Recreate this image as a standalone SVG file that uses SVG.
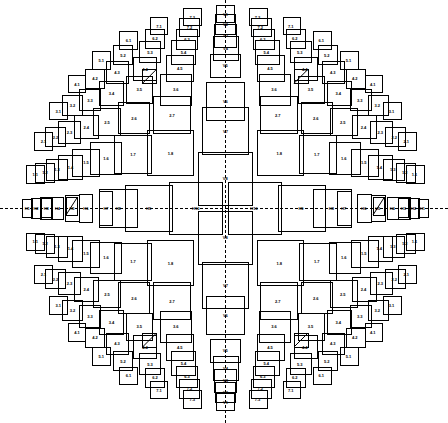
<svg xmlns="http://www.w3.org/2000/svg" width="448" height="423" viewBox="0 0 448 423">
<style>
.bg{fill:#fff;stroke:none}
rect.n{fill:none;stroke:#000;stroke-width:1;shape-rendering:crispEdges}
line{stroke:#000;stroke-width:1}
.ax{stroke-dasharray:3 2;shape-rendering:crispEdges}
text{font-family:"Liberation Sans",Arial,sans-serif;font-size:4px;font-weight:bold;text-anchor:middle;dominant-baseline:central;fill:#000}
.fx text{transform-box:fill-box;transform-origin:center;transform:scale(-1,1)}
.fy text{transform-box:fill-box;transform-origin:center;transform:scale(1,-1)}
.fxy text{transform-box:fill-box;transform-origin:center;transform:scale(-1,-1)}
</style>
<rect class="bg" x="0" y="0" width="448" height="423"/>

<!-- bottom-left quadrant -->
<g id="q-bl">
<g id="bl-1-1"><rect class="n" x="26.5" y="233" width="17.5" height="17.5"/><text x="35.25" y="241.75">1.1</text></g>
<g id="bl-1-2"><rect class="n" x="35.5" y="234" width="19" height="19"/><text x="45" y="243.5">1.2</text></g>
<g id="bl-1-3"><rect class="n" x="46.5" y="236" width="21" height="21"/><text x="57" y="246.5">1.3</text></g>
<g id="bl-1-4"><rect class="n" x="58.5" y="236.5" width="24" height="24.5"/><text x="70.5" y="248.75">1.4</text></g>
<g id="bl-1-5"><rect class="n" x="72.5" y="240" width="27" height="27"/><text x="86" y="253.5">1.5</text></g>
<g id="bl-1-6"><rect class="n" x="90.5" y="242" width="31" height="31.5"/><text x="106" y="257.75">1.6</text></g>
<g id="bl-1-7"><rect class="n" x="114.5" y="243" width="37" height="37.5"/><text x="133" y="261.75">1.7</text></g>
<g id="bl-1-8"><rect class="n" x="147.5" y="240.5" width="46" height="45"/><text x="170.5" y="263">1.8</text></g>
<g id="bl-2-1"><rect class="n" x="34.5" y="265.5" width="18" height="18"/><text x="43.5" y="274.5">2.1</text></g>
<g id="bl-2-2"><rect class="n" x="45.5" y="269.5" width="20" height="19"/><text x="55.5" y="279">2.2</text></g>
<g id="bl-2-3"><rect class="n" x="58.5" y="272.5" width="22" height="22"/><text x="69.5" y="283.5">2.3</text></g>
<g id="bl-2-4"><rect class="n" x="74.5" y="277.5" width="23.5" height="23.5"/><text x="86.25" y="289.25">2.4</text></g>
<g id="bl-2-5"><rect class="n" x="93.5" y="280.5" width="27" height="27"/><text x="107" y="294">2.5</text></g>
<g id="bl-2-6"><rect class="n" x="118.5" y="282.5" width="31" height="31"/><text x="134" y="298">2.6</text></g>
<g id="bl-2-7"><rect class="n" x="153.5" y="282.5" width="37" height="37"/><text x="172" y="301">2.7</text></g>
<g id="bl-3-1"><rect class="n" x="49.5" y="296.5" width="17.5" height="17.5"/><text x="58.25" y="305.25">3.1</text></g>
<g id="bl-3-2"><rect class="n" x="62.5" y="300.5" width="20" height="20"/><text x="72.5" y="310.5">3.2</text></g>
<g id="bl-3-3"><rect class="n" x="79.5" y="305.5" width="21" height="21.5"/><text x="90" y="316.25">3.3</text></g>
<g id="bl-3-4"><rect class="n" x="99.5" y="310.5" width="24" height="24"/><text x="111.5" y="322.5">3.4</text></g>
<g id="bl-3-5"><rect class="n" x="126" y="313" width="26.5" height="27"/><text x="139.25" y="326.5">3.5</text></g>
<g id="bl-3-6"><rect class="n" x="160" y="311" width="31.5" height="31"/><text x="175.75" y="326.5">3.6</text></g>
<g id="bl-4-1"><rect class="n" x="68.5" y="323.5" width="17" height="17.5"/><text x="77" y="332.25">4.1</text></g>
<g id="bl-4-2"><rect class="n" x="85.5" y="328" width="19" height="19"/><text x="95" y="337.5">4.2</text></g>
<g id="bl-4-3"><rect class="n" x="106" y="333" width="22" height="21.5"/><text x="117" y="343.75">4.3</text></g>
<g id="bl-4-4"><rect class="n" x="133.5" y="335.5" width="23" height="23"/><text x="145" y="347">4.4</text></g>
<g id="bl-4-d"><rect class="n" x="142.5" y="333" width="14" height="14"/><line x1="142.5" y1="347" x2="156.5" y2="333"/></g>
<g id="bl-4-5"><rect class="n" x="166" y="334.5" width="27.5" height="26"/><text x="179.75" y="347.5">4.5</text></g>
<g id="bl-5-1"><rect class="n" x="92.5" y="347" width="17.5" height="18"/><text x="101.25" y="356">5.1</text></g>
<g id="bl-5-2"><rect class="n" x="113.5" y="351.5" width="19" height="19"/><text x="123" y="361">5.2</text></g>
<g id="bl-5-3"><rect class="n" x="139.5" y="353.5" width="21" height="21"/><text x="150" y="364">5.3</text></g>
<g id="bl-5-4"><rect class="n" x="171.5" y="351.5" width="24" height="24"/><text x="183.5" y="363.5">5.4</text></g>
<g id="bl-6-1"><rect class="n" x="119.5" y="367" width="18" height="17.5"/><text x="128.5" y="375.75">6.1</text></g>
<g id="bl-6-2"><rect class="n" x="145.5" y="368" width="19" height="19"/><text x="155" y="377.5">6.2</text></g>
<g id="bl-6-3"><rect class="n" x="176.5" y="366.5" width="21" height="20.5"/><text x="187" y="376.75">6.3</text></g>
<g id="bl-7-1"><rect class="n" x="150.5" y="381.5" width="17" height="17"/><text x="159" y="390">7.1</text></g>
<g id="bl-7-2"><rect class="n" x="179.5" y="379.5" width="20" height="18.5"/><text x="189.5" y="388.75">7.2</text></g>
<g id="bl-7-3"><rect class="n" x="183.5" y="390.5" width="17.5" height="17.5"/><text x="192.25" y="399.25">7.3</text></g>
</g>

<!-- bottom-right quadrant -->
<g id="q-br" class="fx" transform="matrix(-1,0,0,1,450.5,0)">
<g id="br-1-1"><rect class="n" x="26.5" y="233" width="17.5" height="17.5"/><text x="35.25" y="241.75">1.1</text></g>
<g id="br-1-2"><rect class="n" x="35.5" y="234" width="19" height="19"/><text x="45" y="243.5">1.2</text></g>
<g id="br-1-3"><rect class="n" x="46.5" y="236" width="21" height="21"/><text x="57" y="246.5">1.3</text></g>
<g id="br-1-4"><rect class="n" x="58.5" y="236.5" width="24" height="24.5"/><text x="70.5" y="248.75">1.4</text></g>
<g id="br-1-5"><rect class="n" x="72.5" y="240" width="27" height="27"/><text x="86" y="253.5">1.5</text></g>
<g id="br-1-6"><rect class="n" x="90.5" y="242" width="31" height="31.5"/><text x="106" y="257.75">1.6</text></g>
<g id="br-1-7"><rect class="n" x="114.5" y="243" width="37" height="37.5"/><text x="133" y="261.75">1.7</text></g>
<g id="br-1-8"><rect class="n" x="147.5" y="240.5" width="46" height="45"/><text x="170.5" y="263">1.8</text></g>
<g id="br-2-1"><rect class="n" x="34.5" y="265.5" width="18" height="18"/><text x="43.5" y="274.5">2.1</text></g>
<g id="br-2-2"><rect class="n" x="45.5" y="269.5" width="20" height="19"/><text x="55.5" y="279">2.2</text></g>
<g id="br-2-3"><rect class="n" x="58.5" y="272.5" width="22" height="22"/><text x="69.5" y="283.5">2.3</text></g>
<g id="br-2-4"><rect class="n" x="74.5" y="277.5" width="23.5" height="23.5"/><text x="86.25" y="289.25">2.4</text></g>
<g id="br-2-5"><rect class="n" x="93.5" y="280.5" width="27" height="27"/><text x="107" y="294">2.5</text></g>
<g id="br-2-6"><rect class="n" x="118.5" y="282.5" width="31" height="31"/><text x="134" y="298">2.6</text></g>
<g id="br-2-7"><rect class="n" x="153.5" y="282.5" width="37" height="37"/><text x="172" y="301">2.7</text></g>
<g id="br-3-1"><rect class="n" x="49.5" y="296.5" width="17.5" height="17.5"/><text x="58.25" y="305.25">3.1</text></g>
<g id="br-3-2"><rect class="n" x="62.5" y="300.5" width="20" height="20"/><text x="72.5" y="310.5">3.2</text></g>
<g id="br-3-3"><rect class="n" x="79.5" y="305.5" width="21" height="21.5"/><text x="90" y="316.25">3.3</text></g>
<g id="br-3-4"><rect class="n" x="99.5" y="310.5" width="24" height="24"/><text x="111.5" y="322.5">3.4</text></g>
<g id="br-3-5"><rect class="n" x="126" y="313" width="26.5" height="27"/><text x="139.25" y="326.5">3.5</text></g>
<g id="br-3-6"><rect class="n" x="160" y="311" width="31.5" height="31"/><text x="175.75" y="326.5">3.6</text></g>
<g id="br-4-1"><rect class="n" x="68.5" y="323.5" width="17" height="17.5"/><text x="77" y="332.25">4.1</text></g>
<g id="br-4-2"><rect class="n" x="85.5" y="328" width="19" height="19"/><text x="95" y="337.5">4.2</text></g>
<g id="br-4-3"><rect class="n" x="106" y="333" width="22" height="21.5"/><text x="117" y="343.75">4.3</text></g>
<g id="br-4-4"><rect class="n" x="133.5" y="335.5" width="23" height="23"/><text x="145" y="347">4.4</text></g>
<g id="br-4-d"><rect class="n" x="142.5" y="333" width="14" height="14"/><line x1="142.5" y1="333" x2="156.5" y2="347"/></g>
<g id="br-4-5"><rect class="n" x="166" y="334.5" width="27.5" height="26"/><text x="179.75" y="347.5">4.5</text></g>
<g id="br-5-1"><rect class="n" x="92.5" y="347" width="17.5" height="18"/><text x="101.25" y="356">5.1</text></g>
<g id="br-5-2"><rect class="n" x="113.5" y="351.5" width="19" height="19"/><text x="123" y="361">5.2</text></g>
<g id="br-5-3"><rect class="n" x="139.5" y="353.5" width="21" height="21"/><text x="150" y="364">5.3</text></g>
<g id="br-5-4"><rect class="n" x="171.5" y="351.5" width="24" height="24"/><text x="183.5" y="363.5">5.4</text></g>
<g id="br-6-1"><rect class="n" x="119.5" y="367" width="18" height="17.5"/><text x="128.5" y="375.75">6.1</text></g>
<g id="br-6-2"><rect class="n" x="145.5" y="368" width="19" height="19"/><text x="155" y="377.5">6.2</text></g>
<g id="br-6-3"><rect class="n" x="176.5" y="366.5" width="21" height="20.5"/><text x="187" y="376.75">6.3</text></g>
<g id="br-7-1"><rect class="n" x="150.5" y="381.5" width="17" height="17"/><text x="159" y="390">7.1</text></g>
<g id="br-7-2"><rect class="n" x="179.5" y="379.5" width="20" height="18.5"/><text x="189.5" y="388.75">7.2</text></g>
<g id="br-7-3"><rect class="n" x="183.5" y="390.5" width="17.5" height="17.5"/><text x="192.25" y="399.25">7.3</text></g>
</g>

<!-- top-left quadrant -->
<g id="q-tl" class="fy" transform="matrix(1,0,0,-1,0,416.3)">
<g id="tl-1-1"><rect class="n" x="26.5" y="233" width="17.5" height="17.5"/><text x="35.25" y="241.75">1.1</text></g>
<g id="tl-1-2"><rect class="n" x="35.5" y="234" width="19" height="19"/><text x="45" y="243.5">1.2</text></g>
<g id="tl-1-3"><rect class="n" x="46.5" y="236" width="21" height="21"/><text x="57" y="246.5">1.3</text></g>
<g id="tl-1-4"><rect class="n" x="58.5" y="236.5" width="24" height="24.5"/><text x="70.5" y="248.75">1.4</text></g>
<g id="tl-1-5"><rect class="n" x="72.5" y="240" width="27" height="27"/><text x="86" y="253.5">1.5</text></g>
<g id="tl-1-6"><rect class="n" x="90.5" y="242" width="31" height="31.5"/><text x="106" y="257.75">1.6</text></g>
<g id="tl-1-7"><rect class="n" x="114.5" y="243" width="37" height="37.5"/><text x="133" y="261.75">1.7</text></g>
<g id="tl-1-8"><rect class="n" x="147.5" y="240.5" width="46" height="45"/><text x="170.5" y="263">1.8</text></g>
<g id="tl-2-1"><rect class="n" x="34.5" y="265.5" width="18" height="18"/><text x="43.5" y="274.5">2.1</text></g>
<g id="tl-2-2"><rect class="n" x="45.5" y="269.5" width="20" height="19"/><text x="55.5" y="279">2.2</text></g>
<g id="tl-2-3"><rect class="n" x="58.5" y="272.5" width="22" height="22"/><text x="69.5" y="283.5">2.3</text></g>
<g id="tl-2-4"><rect class="n" x="74.5" y="277.5" width="23.5" height="23.5"/><text x="86.25" y="289.25">2.4</text></g>
<g id="tl-2-5"><rect class="n" x="93.5" y="280.5" width="27" height="27"/><text x="107" y="294">2.5</text></g>
<g id="tl-2-6"><rect class="n" x="118.5" y="282.5" width="31" height="31"/><text x="134" y="298">2.6</text></g>
<g id="tl-2-7"><rect class="n" x="153.5" y="282.5" width="37" height="37"/><text x="172" y="301">2.7</text></g>
<g id="tl-3-1"><rect class="n" x="49.5" y="296.5" width="17.5" height="17.5"/><text x="58.25" y="305.25">3.1</text></g>
<g id="tl-3-2"><rect class="n" x="62.5" y="300.5" width="20" height="20"/><text x="72.5" y="310.5">3.2</text></g>
<g id="tl-3-3"><rect class="n" x="79.5" y="305.5" width="21" height="21.5"/><text x="90" y="316.25">3.3</text></g>
<g id="tl-3-4"><rect class="n" x="99.5" y="310.5" width="24" height="24"/><text x="111.5" y="322.5">3.4</text></g>
<g id="tl-3-5"><rect class="n" x="126" y="313" width="26.5" height="27"/><text x="139.25" y="326.5">3.5</text></g>
<g id="tl-3-6"><rect class="n" x="160" y="311" width="31.5" height="31"/><text x="175.75" y="326.5">3.6</text></g>
<g id="tl-4-1"><rect class="n" x="68.5" y="323.5" width="17" height="17.5"/><text x="77" y="332.25">4.1</text></g>
<g id="tl-4-2"><rect class="n" x="85.5" y="328" width="19" height="19"/><text x="95" y="337.5">4.2</text></g>
<g id="tl-4-3"><rect class="n" x="106" y="333" width="22" height="21.5"/><text x="117" y="343.75">4.3</text></g>
<g id="tl-4-4"><rect class="n" x="133.5" y="335.5" width="23" height="23"/><text x="145" y="347">4.4</text></g>
<g id="tl-4-d"><rect class="n" x="142.5" y="333" width="14" height="14"/><line x1="142.5" y1="333" x2="156.5" y2="347"/></g>
<g id="tl-4-5"><rect class="n" x="166" y="334.5" width="27.5" height="26"/><text x="179.75" y="347.5">4.5</text></g>
<g id="tl-5-1"><rect class="n" x="92.5" y="347" width="17.5" height="18"/><text x="101.25" y="356">5.1</text></g>
<g id="tl-5-2"><rect class="n" x="113.5" y="351.5" width="19" height="19"/><text x="123" y="361">5.2</text></g>
<g id="tl-5-3"><rect class="n" x="139.5" y="353.5" width="21" height="21"/><text x="150" y="364">5.3</text></g>
<g id="tl-5-4"><rect class="n" x="171.5" y="351.5" width="24" height="24"/><text x="183.5" y="363.5">5.4</text></g>
<g id="tl-6-1"><rect class="n" x="119.5" y="367" width="18" height="17.5"/><text x="128.5" y="375.75">6.1</text></g>
<g id="tl-6-2"><rect class="n" x="145.5" y="368" width="19" height="19"/><text x="155" y="377.5">6.2</text></g>
<g id="tl-6-3"><rect class="n" x="176.5" y="366.5" width="21" height="20.5"/><text x="187" y="376.75">6.3</text></g>
<g id="tl-7-1"><rect class="n" x="150.5" y="381.5" width="17" height="17"/><text x="159" y="390">7.1</text></g>
<g id="tl-7-2"><rect class="n" x="179.5" y="379.5" width="20" height="18.5"/><text x="189.5" y="388.75">7.2</text></g>
<g id="tl-7-3"><rect class="n" x="183.5" y="390.5" width="17.5" height="17.5"/><text x="192.25" y="399.25">7.3</text></g>
</g>

<!-- top-right quadrant -->
<g id="q-tr" class="fxy" transform="matrix(-1,0,0,-1,450.5,416.3)">
<g id="tr-1-1"><rect class="n" x="26.5" y="233" width="17.5" height="17.5"/><text x="35.25" y="241.75">1.1</text></g>
<g id="tr-1-2"><rect class="n" x="35.5" y="234" width="19" height="19"/><text x="45" y="243.5">1.2</text></g>
<g id="tr-1-3"><rect class="n" x="46.5" y="236" width="21" height="21"/><text x="57" y="246.5">1.3</text></g>
<g id="tr-1-4"><rect class="n" x="58.5" y="236.5" width="24" height="24.5"/><text x="70.5" y="248.75">1.4</text></g>
<g id="tr-1-5"><rect class="n" x="72.5" y="240" width="27" height="27"/><text x="86" y="253.5">1.5</text></g>
<g id="tr-1-6"><rect class="n" x="90.5" y="242" width="31" height="31.5"/><text x="106" y="257.75">1.6</text></g>
<g id="tr-1-7"><rect class="n" x="114.5" y="243" width="37" height="37.5"/><text x="133" y="261.75">1.7</text></g>
<g id="tr-1-8"><rect class="n" x="147.5" y="240.5" width="46" height="45"/><text x="170.5" y="263">1.8</text></g>
<g id="tr-2-1"><rect class="n" x="34.5" y="265.5" width="18" height="18"/><text x="43.5" y="274.5">2.1</text></g>
<g id="tr-2-2"><rect class="n" x="45.5" y="269.5" width="20" height="19"/><text x="55.5" y="279">2.2</text></g>
<g id="tr-2-3"><rect class="n" x="58.5" y="272.5" width="22" height="22"/><text x="69.5" y="283.5">2.3</text></g>
<g id="tr-2-4"><rect class="n" x="74.5" y="277.5" width="23.5" height="23.5"/><text x="86.25" y="289.25">2.4</text></g>
<g id="tr-2-5"><rect class="n" x="93.5" y="280.5" width="27" height="27"/><text x="107" y="294">2.5</text></g>
<g id="tr-2-6"><rect class="n" x="118.5" y="282.5" width="31" height="31"/><text x="134" y="298">2.6</text></g>
<g id="tr-2-7"><rect class="n" x="153.5" y="282.5" width="37" height="37"/><text x="172" y="301">2.7</text></g>
<g id="tr-3-1"><rect class="n" x="49.5" y="296.5" width="17.5" height="17.5"/><text x="58.25" y="305.25">3.1</text></g>
<g id="tr-3-2"><rect class="n" x="62.5" y="300.5" width="20" height="20"/><text x="72.5" y="310.5">3.2</text></g>
<g id="tr-3-3"><rect class="n" x="79.5" y="305.5" width="21" height="21.5"/><text x="90" y="316.25">3.3</text></g>
<g id="tr-3-4"><rect class="n" x="99.5" y="310.5" width="24" height="24"/><text x="111.5" y="322.5">3.4</text></g>
<g id="tr-3-5"><rect class="n" x="126" y="313" width="26.5" height="27"/><text x="139.25" y="326.5">3.5</text></g>
<g id="tr-3-6"><rect class="n" x="160" y="311" width="31.5" height="31"/><text x="175.75" y="326.5">3.6</text></g>
<g id="tr-4-1"><rect class="n" x="68.5" y="323.5" width="17" height="17.5"/><text x="77" y="332.25">4.1</text></g>
<g id="tr-4-2"><rect class="n" x="85.5" y="328" width="19" height="19"/><text x="95" y="337.5">4.2</text></g>
<g id="tr-4-3"><rect class="n" x="106" y="333" width="22" height="21.5"/><text x="117" y="343.75">4.3</text></g>
<g id="tr-4-4"><rect class="n" x="133.5" y="335.5" width="23" height="23"/><text x="145" y="347">4.4</text></g>
<g id="tr-4-d"><rect class="n" x="142.5" y="333" width="14" height="14"/><line x1="142.5" y1="347" x2="156.5" y2="333"/></g>
<g id="tr-4-5"><rect class="n" x="166" y="334.5" width="27.5" height="26"/><text x="179.75" y="347.5">4.5</text></g>
<g id="tr-5-1"><rect class="n" x="92.5" y="347" width="17.5" height="18"/><text x="101.25" y="356">5.1</text></g>
<g id="tr-5-2"><rect class="n" x="113.5" y="351.5" width="19" height="19"/><text x="123" y="361">5.2</text></g>
<g id="tr-5-3"><rect class="n" x="139.5" y="353.5" width="21" height="21"/><text x="150" y="364">5.3</text></g>
<g id="tr-5-4"><rect class="n" x="171.5" y="351.5" width="24" height="24"/><text x="183.5" y="363.5">5.4</text></g>
<g id="tr-6-1"><rect class="n" x="119.5" y="367" width="18" height="17.5"/><text x="128.5" y="375.75">6.1</text></g>
<g id="tr-6-2"><rect class="n" x="145.5" y="368" width="19" height="19"/><text x="155" y="377.5">6.2</text></g>
<g id="tr-6-3"><rect class="n" x="176.5" y="366.5" width="21" height="20.5"/><text x="187" y="376.75">6.3</text></g>
<g id="tr-7-1"><rect class="n" x="150.5" y="381.5" width="17" height="17"/><text x="159" y="390">7.1</text></g>
<g id="tr-7-2"><rect class="n" x="179.5" y="379.5" width="20" height="18.5"/><text x="189.5" y="388.75">7.2</text></g>
<g id="tr-7-3"><rect class="n" x="183.5" y="390.5" width="17.5" height="17.5"/><text x="192.25" y="399.25">7.3</text></g>
</g>

<!-- vertical arm, top -->
<g id="arm-top">
<g id="vt-1"><rect class="n" x="216.3" y="5.7" width="18.4" height="17"/><text x="225.5" y="14.2">V1</text></g>
<g id="vt-2"><rect class="n" x="215.5" y="14" width="20" height="20.3"/><text x="225.5" y="24.2">V2</text></g>
<g id="vt-3"><rect class="n" x="214.3" y="24" width="22.4" height="23.3"/><text x="225.5" y="35.7">V3</text></g>
<g id="vt-4"><rect class="n" x="213" y="36" width="25" height="24"/><text x="225.5" y="48">V4</text></g>
<g id="vt-5"><rect class="n" x="210.3" y="54" width="30" height="23"/><text x="225.3" y="65.5">V5</text></g>
<g id="vt-6"><rect class="n" x="206.7" y="82.3" width="37.4" height="37.7"/><text x="225.4" y="101.2">V6</text></g>
<g id="vt-7"><rect class="n" x="202.3" y="107.7" width="46.4" height="46.6"/><text x="225.5" y="131">V7</text></g>
<g id="vt-8"><rect class="n" x="198.3" y="152.3" width="54" height="52.7"/><text x="225.3" y="178.6">V8</text></g>
</g>
<!-- vertical arm, bottom -->
<g id="arm-bottom" class="fy" transform="matrix(1,0,0,-1,0,416.3)">
<g id="vb-1"><rect class="n" x="216.3" y="5.7" width="18.4" height="17"/><text x="225.5" y="14.2">V1</text></g>
<g id="vb-2"><rect class="n" x="215.5" y="14" width="20" height="20.3"/><text x="225.5" y="24.2">V2</text></g>
<g id="vb-3"><rect class="n" x="214.3" y="24" width="22.4" height="23.3"/><text x="225.5" y="35.7">V3</text></g>
<g id="vb-4"><rect class="n" x="213" y="36" width="25" height="24"/><text x="225.5" y="48">V4</text></g>
<g id="vb-5"><rect class="n" x="210.3" y="54" width="30" height="23"/><text x="225.3" y="65.5">V5</text></g>
<g id="vb-6"><rect class="n" x="206.7" y="82.3" width="37.4" height="37.7"/><text x="225.4" y="101.2">V6</text></g>
<g id="vb-7"><rect class="n" x="202.3" y="107.7" width="46.4" height="46.6"/><text x="225.5" y="131">V7</text></g>
<g id="vb-8"><rect class="n" x="198.3" y="152.3" width="54" height="52.7"/><text x="225.3" y="178.6">V8</text></g>
</g>

<!-- horizontal arm, left -->
<g id="arm-left">
<g id="hl-1"><rect class="n" x="22.5" y="199.2" width="9.5" height="18"/><text x="27.25" y="208.2">H1</text></g>
<g id="hl-2"><rect class="n" x="31" y="198.5" width="10" height="19.5"/><text x="36" y="208.2">H2</text></g>
<g id="hl-3"><rect class="n" x="40.3" y="197.2" width="12" height="22"/><rect class="n" x="41.8" y="198.7" width="10.5" height="19"/><text x="46.3" y="208.2">H3</text></g>
<g id="hl-4"><rect class="n" x="51.7" y="197.5" width="11.6" height="21.5"/><text x="57.5" y="208.2">H4</text></g>
<g id="hl-5"><rect class="n" x="65" y="195.2" width="14" height="26"/><text x="72" y="208.2">H5</text></g>
<g id="hl-5d"><rect class="n" x="66" y="197" width="11.5" height="18"/><line x1="66" y1="215" x2="77.5" y2="197"/></g>
<g id="hl-6"><rect class="n" x="79" y="194.2" width="13.7" height="28"/><text x="85.9" y="208.2">H6</text></g>
<g id="hl-7"><rect class="n" x="99.3" y="191" width="13.4" height="34.4"/><text x="106" y="208.2">H7</text></g>
<g id="hl-8"><rect class="n" x="99.3" y="189.3" width="38" height="37.8"/><text x="118.3" y="208.2">H8</text></g>
<g id="hl-9"><rect class="n" x="125.3" y="185" width="46.7" height="46.4"/><text x="148.7" y="208.2">H9</text></g>
<g id="hl-10"><rect class="n" x="169.3" y="182.3" width="52.7" height="51.8"/><text x="195.7" y="208.2">H10</text></g>
</g>
<!-- horizontal arm, right -->
<g id="arm-right" class="fx" transform="matrix(-1,0,0,1,450.5,0)">
<g id="hr-1"><rect class="n" x="22.5" y="199.2" width="9.5" height="18"/><text x="27.25" y="208.2">H1</text></g>
<g id="hr-2"><rect class="n" x="31" y="198.5" width="10" height="19.5"/><text x="36" y="208.2">H2</text></g>
<g id="hr-3"><rect class="n" x="40.3" y="197.2" width="12" height="22"/><rect class="n" x="41.8" y="198.7" width="10.5" height="19"/><text x="46.3" y="208.2">H3</text></g>
<g id="hr-4"><rect class="n" x="51.7" y="197.5" width="11.6" height="21.5"/><text x="57.5" y="208.2">H4</text></g>
<g id="hr-5"><rect class="n" x="65" y="195.2" width="14" height="26"/><text x="72" y="208.2">H5</text></g>
<g id="hr-5d"><rect class="n" x="66" y="197" width="11.5" height="18"/><line x1="66" y1="197" x2="77.5" y2="215"/></g>
<g id="hr-6"><rect class="n" x="79" y="194.2" width="13.7" height="28"/><text x="85.9" y="208.2">H6</text></g>
<g id="hr-7"><rect class="n" x="99.3" y="191" width="13.4" height="34.4"/><text x="106" y="208.2">H7</text></g>
<g id="hr-8"><rect class="n" x="99.3" y="189.3" width="38" height="37.8"/><text x="118.3" y="208.2">H8</text></g>
<g id="hr-9"><rect class="n" x="125.3" y="185" width="46.7" height="46.4"/><text x="148.7" y="208.2">H9</text></g>
<g id="hr-10"><rect class="n" x="169.3" y="182.3" width="52.7" height="51.8"/><text x="195.7" y="208.2">H10</text></g>
</g>

<!-- axes -->
<g id="connectors">
<line class="ax" x1="0" y1="208.2" x2="448" y2="208.2"/>
<line class="ax" x1="225.4" y1="0" x2="225.4" y2="423"/>
</g>
</svg>
